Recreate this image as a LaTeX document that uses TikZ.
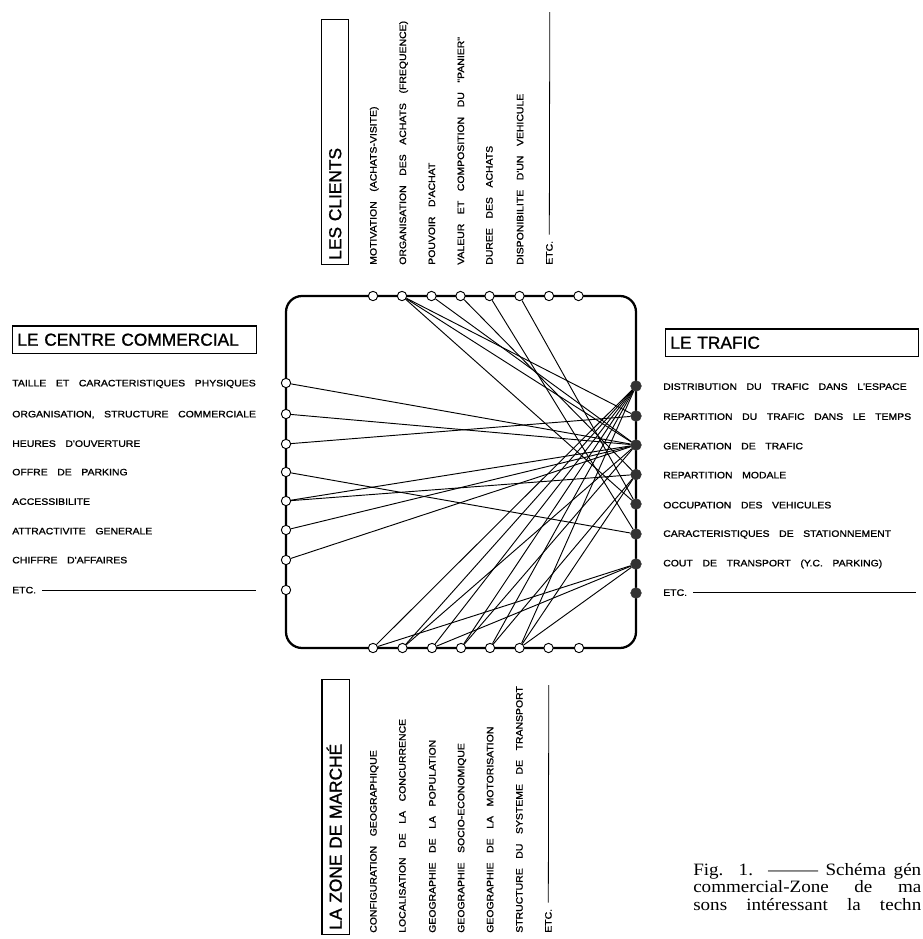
\documentclass[tikz,border=0pt]{standalone}
\usepackage{fontspec}
\usepackage{graphicx}
\setmainfont{Liberation Serif}
\newfontfamily\capfont[FakeStretch=1.1]{Liberation Serif}
\newfontfamily\itemfont[FakeStretch=1.12,WordSpace=3.3,FakeBold=1.2]{Liberation Sans}
\newfontfamily\titlefont[WordSpace=2.5,FakeBold=1.2]{Liberation Sans}
\tikzset{
  opennode/.style={circle, draw, fill=white, line width=0.7pt, minimum size=7pt, inner sep=0pt},
  fullnode/.style={circle, draw=black!80, fill=black!80, minimum size=8pt, inner sep=0pt},
  link/.style={line width=0.7pt},
  frameline/.style={line width=1.7pt, rounded corners=12pt},
  itemlab/.style={font=\itemfont\fontsize{7pt}{8pt}\selectfont, inner sep=0pt, text height=5pt, text depth=0pt, anchor=west},
  titlebox/.style={draw, line width=1pt, font=\titlefont\fontsize{13pt}{15pt}\selectfont, inner xsep=3.5pt, inner ysep=0pt, minimum height=20.5pt, align=left, text height=9.3pt, text depth=0pt},
  etcline/.style={line width=0.6pt},
  caption/.style={font=\capfont\fontsize{13pt}{13.5pt}\selectfont, inner sep=0pt, anchor=base west}
}
\begin{document}
\begin{tikzpicture}[x=0.75pt,y=-0.75pt]
\useasboundingbox (0,0) rectangle (923,939);
% frame
\draw[frameline] (286,296) rectangle (636,648);
% top nodes
\foreach \i/\x in {1/373,2/402,3/431.5,4/460.5,5/489.5,6/519.5,7/549,8/578.5}
  \node[opennode] (T\i) at (\x,296) {};
% bottom nodes
\foreach \i/\x in {1/373,2/402.5,3/432,4/461,5/490,6/519.5,7/548.5,8/579}
  \node[opennode] (B\i) at (\x,648) {};
% left nodes
\foreach \i/\y in {1/383,2/414,3/444,4/472,5/501,6/530,7/560,8/590}
  \node[opennode] (L\i) at (286,\y) {};
% right nodes
\foreach \i/\y in {1/386,2/416,3/445,4/474.5,5/504,6/534,7/564,8/593}
  \node[fullnode] (R\i) at (636,\y) {};
% connectors
\foreach \a/\b in {L1/R3,L2/R3,L3/R2,L4/R6,L5/R3,L5/R4,L6/R3,L7/R3,
                   T2/R2,T2/R3,T2/R5,T3/R3,T4/R4,T5/R6,T6/R5,
                   B1/R1,B1/R7,B2/R1,B2/R3,B3/R1,B3/R7,B4/R1,B4/R3,B5/R1,B5/R4,B6/R1,B6/R4,B6/R7}
  \draw[link] (\a) -- (\b);
% titles
\node[titlebox, text width=176pt, anchor=west] (tcc) at (12,339.5) {LE CENTRE COMMERCIAL};
\node[titlebox, text width=182.75pt, anchor=west] (ttr) at (665,342.5) {LE TRAFIC};
\node[titlebox, text width=176.75pt, rotate=90, anchor=west] (tcl) at (335,265) {LES CLIENTS};
\node[titlebox, text width=184.25pt, rotate=90, anchor=west] (tzm) at (335.5,935) {LA ZONE DE MARCH\'E};
% left labels
\node[itemlab] (cl1) at (12,383) {TAILLE ET CARACTERISTIQUES PHYSIQUES};
\node[itemlab] (cl2) at (12,414) {ORGANISATION, STRUCTURE COMMERCIALE};
\node[itemlab] (cl3) at (12,443.5) {HEURES D'OUVERTURE};
\node[itemlab] (cl4) at (12,472) {OFFRE DE PARKING};
\node[itemlab] (cl5) at (12,501.5) {ACCESSIBILITE};
\node[itemlab] (cl6) at (12,531) {ATTRACTIVITE GENERALE};
\node[itemlab] (cl7) at (12,560) {CHIFFRE D'AFFAIRES};
\node[itemlab] (cl8) at (12,590) {ETC.};
\coordinate (cl8e) at (256,590);
\draw[etcline] ([xshift=4.5pt]cl8.east) -- (cl8e);
% right labels
\node[itemlab] (cr1) at (663,386.5) {DISTRIBUTION DU TRAFIC DANS L'ESPACE};
\node[itemlab] (cr2) at (663,416.5) {REPARTITION DU TRAFIC DANS LE TEMPS};
\node[itemlab] (cr3) at (663,446) {GENERATION DE TRAFIC};
\node[itemlab] (cr4) at (663,475) {REPARTITION MODALE};
\node[itemlab] (cr5) at (663,505) {OCCUPATION DES VEHICULES};
\node[itemlab] (cr6) at (663,533.5) {CARACTERISTIQUES DE STATIONNEMENT};
\node[itemlab] (cr7) at (663,563) {COUT DE TRANSPORT (Y.C. PARKING)};
\node[itemlab] (cr8) at (663,592.5) {ETC.};
\coordinate (cr8e) at (916,592.5);
\draw[etcline] ([xshift=4.5pt]cr8.east) -- (cr8e);
% top labels
\node[itemlab, rotate=90] (ct1) at (373.3,265) {MOTIVATION (ACHATS-VISITE)};
\node[itemlab, rotate=90] (ct2) at (402.7,265) {ORGANISATION DES ACHATS (FREQUENCE)};
\node[itemlab, rotate=90] (ct3) at (431.7,265) {POUVOIR D'ACHAT};
\node[itemlab, rotate=90] (ct4) at (460.7,265) {VALEUR ET COMPOSITION DU "PANIER"};
\node[itemlab, rotate=90] (ct5) at (489.3,265) {DUREE DES ACHATS};
\node[itemlab, rotate=90] (ct6) at (520,265) {DISPONIBILITE D'UN VEHICULE};
\node[itemlab, rotate=90] (ct7) at (549.3,265) {ETC.};
\coordinate (ct7e) at (549.8,12);
\draw[etcline] ([yshift=4.5pt]ct7.east) -- (ct7e);
% bottom labels
\node[itemlab, rotate=90] (cb1) at (373.3,933) {CONFIGURATION GEOGRAPHIQUE};
\node[itemlab, rotate=90] (cb2) at (402.3,933) {LOCALISATION DE LA CONCURRENCE};
\node[itemlab, rotate=90] (cb3) at (432.3,933) {GEOGRAPHIE DE LA POPULATION};
\node[itemlab, rotate=90] (cb4) at (461,933) {GEOGRAPHIE SOCIO-ECONOMIQUE};
\node[itemlab, rotate=90] (cb5) at (490,933) {GEOGRAPHIE DE LA MOTORISATION};
\node[itemlab, rotate=90] (cb6) at (519.3,933) {STRUCTURE DU SYSTEME DE TRANSPORT};
\node[itemlab, rotate=90] (cb7) at (548.3,933) {ETC.};
\coordinate (cb7e) at (548.8,685);
\draw[etcline] ([yshift=4.5pt]cb7.east) -- (cb7e);
% caption (as far as the page shows it)
\node[caption] (cap1) at (693,875) {\makebox[171pt][s]{Fig. 1. \scalebox{2.6}[1]{—} Schéma gén}};
\node[caption] (cap2) at (693,892.5) {\makebox[171pt][s]{commercial-Zone de ma}};
\node[caption] (cap3) at (693,910) {\makebox[171pt][s]{sons intéressant la techn}};
\end{tikzpicture}
\end{document}
